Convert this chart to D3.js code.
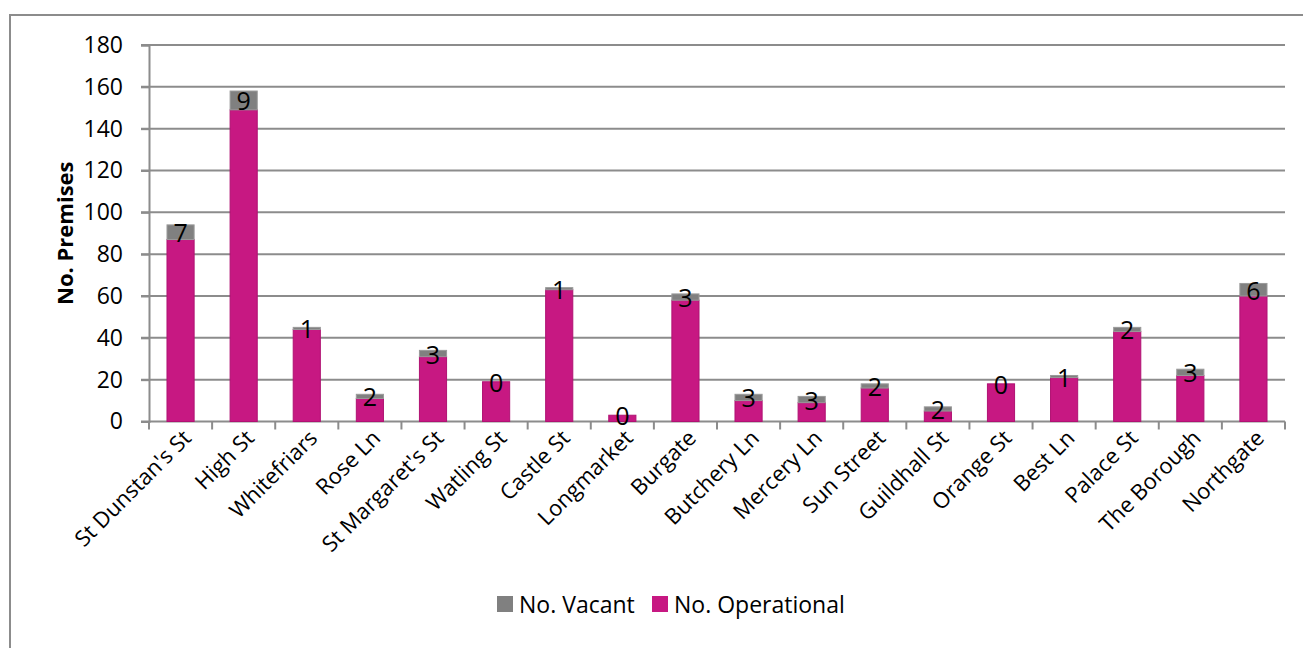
<!DOCTYPE html>
<html>
<head>
<meta charset="utf-8">
<script src="https://cdn.jsdelivr.net/npm/d3@7/dist/d3.min.js"></script>
<style>
  body { margin: 0; background: #fff; }
  text { font-family: "Open Sans", "Noto Sans", sans-serif; fill: #000; }
</style>
</head>
<body>
<div id="chart"></div>
<script>
var streets = ["St Dunstan's St", "High St", "Whitefriars", "Rose Ln", "St Margaret's St", "Watling St",
  "Castle St", "Longmarket", "Burgate", "Butchery Ln", "Mercery Ln", "Sun Street", "Guildhall St",
  "Orange St", "Best Ln", "Palace St", "The Borough", "Northgate"];
var operational = [87, 149, 44, 11, 31, 19, 63, 3, 58, 10, 9, 16, 5, 18, 21, 43, 22, 60];
var vacant = [7, 9, 1, 2, 3, 0, 1, 0, 3, 3, 3, 2, 2, 0, 1, 2, 3, 6];
var yTicks = [0, 20, 40, 60, 80, 100, 120, 140, 160, 180];

var width = 1303, height = 648;
var margin = { top: 45, left: 149, right: 18, bottom: 226 };
var gridColor = "#8c8c8c";
var opColor = "#c71882";
var vacColor = "#808080";

var svg = d3.select("#chart").append("svg")
  .attr("width", width)
  .attr("height", height);

// outer frame
svg.append("rect")
  .attr("x", 10).attr("y", 15)
  .attr("width", 1300).attr("height", 700)
  .attr("fill", "none")
  .attr("stroke", gridColor)
  .attr("stroke-width", 2);

var x = d3.scaleBand()
  .domain(streets)
  .range([margin.left, width - margin.right])
  .paddingInner(0.57)
  .paddingOuter(0.285);

var y = d3.scaleLinear()
  .domain([0, 180])
  .range([height - margin.bottom - 0.5, margin.top]);

// gridlines
svg.append("g")
  .selectAll("line")
  .data(yTicks.slice(1))
  .join("line")
  .attr("x1", margin.left - 8)
  .attr("x2", width - margin.right)
  .attr("y1", function(d) { return y(d); })
  .attr("y2", function(d) { return y(d); })
  .attr("stroke", gridColor)
  .attr("stroke-width", 2);

// y axis
var yAxis = svg.append("g")
  .attr("transform", "translate(" + margin.left + ",0)")
  .call(d3.axisLeft(y).tickValues(yTicks).tickSize(8).tickPadding(18));
yAxis.select(".domain").attr("stroke", gridColor).attr("stroke-width", 2);
yAxis.selectAll(".tick line").attr("stroke", gridColor).attr("stroke-width", 2);
yAxis.selectAll(".tick text").style("font-size", "23px").attr("fill", "#000");

// x axis
var step = x.step();
var xAxis = svg.append("g")
  .attr("transform", "translate(0," + y(0) + ")");
xAxis.append("line")
  .attr("x1", margin.left - 8).attr("x2", width - margin.right)
  .attr("y1", 0).attr("y2", 0)
  .attr("stroke", gridColor).attr("stroke-width", 2);
xAxis.selectAll("line.tk")
  .data(d3.range(streets.length + 1))
  .join("line")
  .attr("class", "tk")
  .attr("x1", function(i) { return margin.left + i * step; })
  .attr("x2", function(i) { return margin.left + i * step; })
  .attr("y1", 0).attr("y2", 8)
  .attr("stroke", gridColor).attr("stroke-width", 2);
xAxis.selectAll("text")
  .data(streets)
  .join("text")
  .attr("text-anchor", "end")
  .attr("transform", function(d) {
    return "translate(" + (x(d) + x.bandwidth() / 2 + 12) + ",18) rotate(-45)";
  })
  .style("font-size", "22px")
  .text(function(d) { return d; });

// bars
var rows = streets.map(function(s, i) {
  return { name: s, op: operational[i], vac: vacant[i] };
});

svg.append("g").selectAll("rect")
  .data(rows)
  .join("rect")
  .attr("x", function(d) { return x(d.name); })
  .attr("width", x.bandwidth())
  .attr("y", function(d) { return y(d.op); })
  .attr("height", function(d) { return y(0) - y(d.op); })
  .attr("fill", opColor)
  .attr("stroke", "#b01273")
  .attr("stroke-width", 1);

svg.append("g").selectAll("rect")
  .data(rows.filter(function(d) { return d.vac > 0; }))
  .join("rect")
  .attr("x", function(d) { return x(d.name); })
  .attr("width", x.bandwidth())
  .attr("y", function(d) { return y(d.op + d.vac); })
  .attr("height", function(d) { return y(d.op) - y(d.op + d.vac); })
  .attr("fill", vacColor)
  .attr("stroke", "#9a9a9a")
  .attr("stroke-width", 1);

// vacant labels
svg.append("g").selectAll("text")
  .data(rows)
  .join("text")
  .attr("x", function(d) { return x(d.name) + x.bandwidth() / 2; })
  .attr("y", function(d) { return y(d.op + d.vac / 2); })
  .attr("text-anchor", "middle")
  .attr("dominant-baseline", "central")
  .style("font-size", "25px")
  .text(function(d) { return d.vac; });

// y title
svg.append("text")
  .attr("transform", "translate(64," + ((y(0) + y(180)) / 2) + ") rotate(-90)")
  .attr("text-anchor", "middle")
  .attr("dominant-baseline", "central")
  .style("font-size", "22px")
  .style("font-weight", "bold")
  .text("No. Premises");

// legend
var legend = [{ label: "No. Vacant", color: vacColor, x: 497 }, { label: "No. Operational", color: opColor, x: 652 }];
var lg = svg.append("g").selectAll("g")
  .data(legend)
  .join("g")
  .attr("transform", function(d) { return "translate(" + d.x + ",596)"; });
lg.append("rect")
  .attr("width", 16).attr("height", 16)
  .attr("fill", function(d) { return d.color; });
lg.append("text")
  .attr("x", 22).attr("y", 8)
  .attr("dominant-baseline", "central")
  .style("font-size", "23px")
  .text(function(d) { return d.label; });
</script>
</body>
</html>
